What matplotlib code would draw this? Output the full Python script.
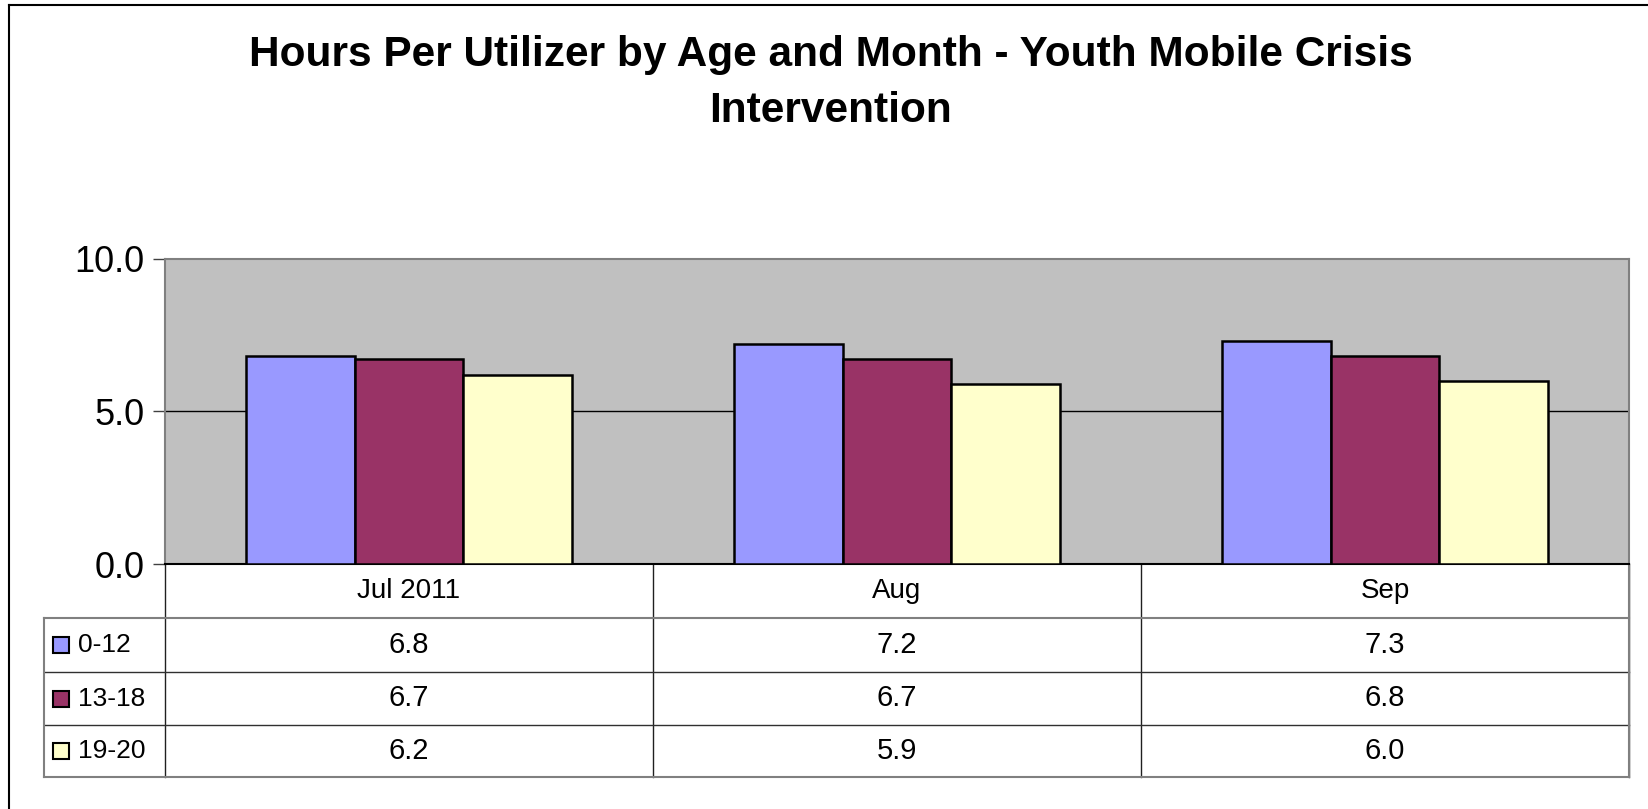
import matplotlib.pyplot as plt
import numpy as np
from matplotlib.patches import Rectangle
from matplotlib.lines import Line2D

# data
months = ['Jul 2011', 'Aug', 'Sep']
groups = ['0-12', '13-18', '19-20']
age_0_12 = [6.8, 7.2, 7.3]
age_13_18 = [6.7, 6.7, 6.8]
age_19_20 = [6.2, 5.9, 6.0]
colors = ['#9999FF', '#993366', '#FFFFCC']
yticks = [0.0, 5.0, 10.0]

series = [age_0_12, age_13_18, age_19_20]
fam = ['Liberation Sans', 'DejaVu Sans']
W, H = 1648, 809

fig = plt.figure(figsize=(W / 100, H / 100), dpi=100)
fig.patch.set_facecolor('white')

# plot area (pixel positions turned into figure fractions)
left, right, top, bottom = 165, 1629, 258.5, 564
ax = fig.add_axes([left / W, 1 - bottom / H, (right - left) / W, (bottom - top) / H])
ax.set_facecolor('#C0C0C0')

x = np.arange(len(months))
bw = 1 / 4.5  # excel gap width 150%
for i, vals in enumerate(series):
    ax.bar(x + (i - 1) * bw, vals, width=bw, color=colors[i], edgecolor='black',
           linewidth=1.8, zorder=3)

ax.set_xlim(-0.5, len(months) - 0.5)
ax.set_ylim(0, 10)
ax.set_yticks(yticks)
ax.set_yticklabels([f'{v:.1f}' for v in yticks], family=fam, fontsize=26)
ax.tick_params(axis='y', length=9, width=1, color='#404040', pad=6)
ax.set_xticks([])
ax.axhline(5.0, color='black', lw=1, zorder=1)
for s in ['top', 'right', 'left']:
    ax.spines[s].set_color('#808080')
    ax.spines[s].set_linewidth(1.5)
ax.spines['bottom'].set_color('black')
ax.spines['bottom'].set_linewidth(1.5)

# data table under the plot, in axes fractions
pw = right - left
ph = bottom - top
row_h = [54 / ph, 54 / ph, 53 / ph, 52 / ph]
leg_x = (44 - left) / pw
edges = -np.cumsum([0] + row_h)
tr = ax.transAxes


def line(xs, ys, c='#303030', lw=1.0):
    ax.add_line(Line2D(xs, ys, transform=tr, color=c, lw=lw, clip_on=False))


for i in range(len(months) + 1):
    line([i / 3, i / 3], [0, edges[-1]], c='#202020')
for j in range(1, 5):
    outer = j in (1, 4)
    line([leg_x, 1], [edges[j], edges[j]], c='#808080' if outer else '#303030',
         lw=1.5 if outer else 1.0)
line([leg_x, leg_x], [edges[1], edges[4]], c='#808080', lw=1.5)
line([1, 1], [0, edges[4]], c='#808080', lw=1.5)

for i, m in enumerate(months):
    ax.text((i + 0.5) / 3, (edges[0] + edges[1]) / 2, m, transform=tr, ha='center',
            va='center', family=fam, fontsize=20)
for j, vals in enumerate(series):
    yc = (edges[j + 1] + edges[j + 2]) / 2
    for i, v in enumerate(vals):
        ax.text((i + 0.5) / 3, yc, f'{v:.1f}', transform=tr, ha='center', va='center',
                family=fam, fontsize=21)
    sq_w = 16 / pw
    sq_h = 16 / ph
    ax.add_patch(Rectangle((leg_x + 9 / pw, yc - sq_h / 2), sq_w, sq_h,
                           transform=tr, facecolor=colors[j], edgecolor='black',
                           lw=1.5, clip_on=False))
    ax.text(leg_x + 34 / pw, yc, groups[j], transform=tr, ha='left',
            va='center', family=fam, fontsize=19)

# title
fig.text(0.504, 1 - 83 / H, 'Hours Per Utilizer by Age and Month - Youth Mobile Crisis\nIntervention',
         ha='center', va='center', family=fam, fontsize=30.5, fontweight='bold',
         linespacing=1.5)

# outer chart border (left and top edge visible)
fig.add_artist(Line2D([8.5 / W, 8.5 / W], [0, 1 - 5 / H], color='black', lw=1.5,
                      transform=fig.transFigure))
fig.add_artist(Line2D([8.5 / W, 1], [1 - 5 / H, 1 - 5 / H], color='black', lw=1.5,
                      transform=fig.transFigure))

fig.savefig('out.png', dpi=100)
